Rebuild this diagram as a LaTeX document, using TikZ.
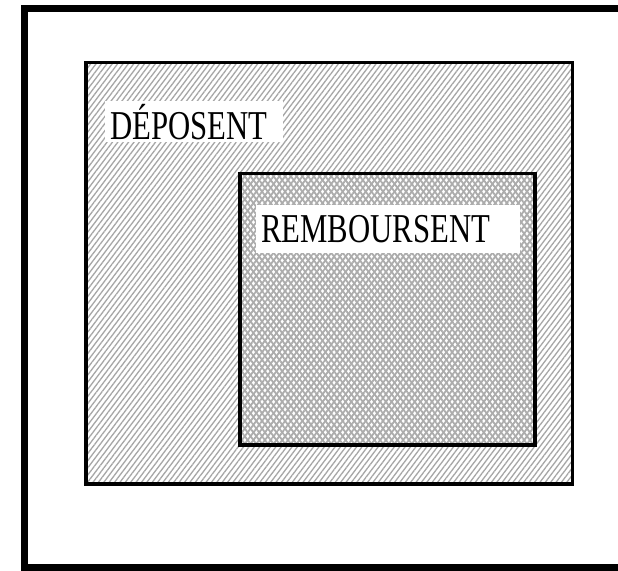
\documentclass[tikz,border=0pt]{standalone}
\usepackage{fontspec}
\setmainfont{Liberation Serif}
\usetikzlibrary{patterns.meta}
\tikzset{
  frame/.style={draw=black, line width=3.5pt},
  labelbox/.style={fill=white, anchor=north west, inner xsep=5pt, inner ysep=0pt, align=left,
    font=\fontsize{41}{41}\selectfont},
  hatchA/.style={pattern={Lines[angle=53, distance=4.3pt, line width=1.3pt]}, pattern color=gray!70},
  hatchB/.style={pattern={Lines[angle=#1, distance=4.6pt, line width=1.8pt]}, pattern color=gray!65},
}
\begin{document}
\begin{tikzpicture}[x=1pt,y=-1pt]
\useasboundingbox (0,0) rectangle (618,570);
\clip (0,0) rectangle (618,570);
% outer frame
\draw[line width=7pt] (24,8.5) rectangle (660,567);
% middle rectangle
\fill[white] (86,62.5) rectangle (572.5,484);
\fill[hatchA] (86,62.5) rectangle (572.5,484);
\draw[frame] (86,62.5) rectangle (572.5,484);
% inner rectangle
\fill[white] (240,173.5) rectangle (535,445);
\fill[hatchB=53] (240,173.5) rectangle (535,445);
\fill[hatchB=127] (240,173.5) rectangle (535,445);
\draw[frame] (240,173.5) rectangle (535,445);
% labels
\node[labelbox, text width=168pt, minimum height=41pt] (depose) at (105,101) {\scalebox{0.75}[1]{DÉPOSENT}};
\node[labelbox, text width=254pt, minimum height=48pt] (rembourse) at (256,205) {\scalebox{0.75}[1]{REMBOURSENT}};
\end{tikzpicture}
\end{document}
